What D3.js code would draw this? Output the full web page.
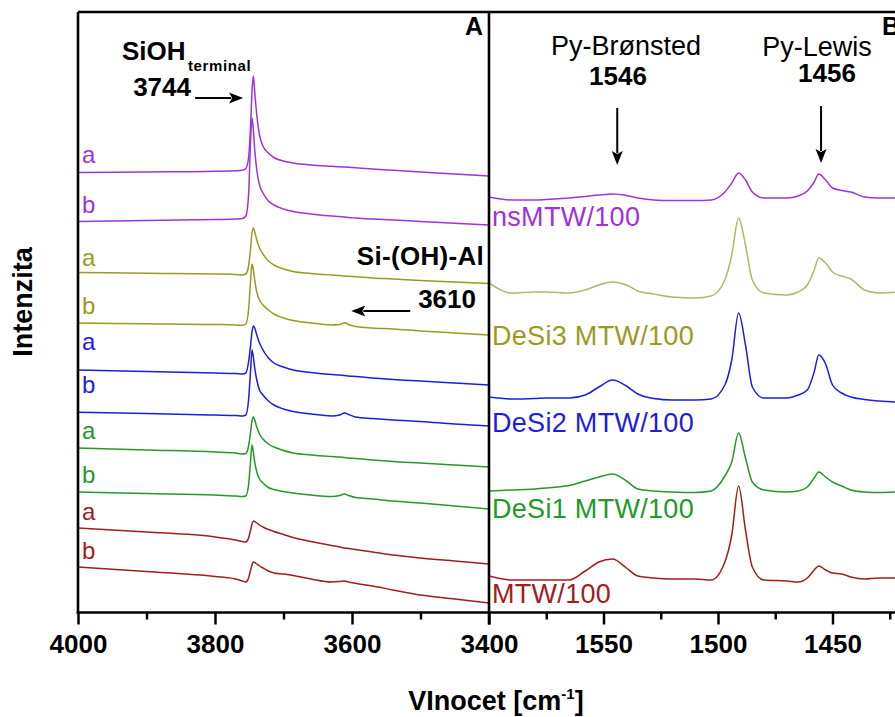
<!DOCTYPE html>
<html><head><meta charset="utf-8">
<script src="https://cdn.jsdelivr.net/npm/d3@7"></script>
<style>
html,body{margin:0;padding:0;background:#fff;}
svg{display:block;font-family:"Liberation Sans",Arial,sans-serif;}
</style></head>
<body>
<svg id="chart" width="895" height="717"></svg>
<script>
// ---------- DATA ----------
// Panel A: wavenumber grid (cm-1) and stacked intensity (a.u.)
const wnA = [4000,3900,3800,3770,3760,3755,3751,3748,3746,3744,3742,3739,3735,3730,3722,3714,3700,3686,3660,3630,3618,3611,3605,3595,3570,3540,3500,3450,3400];
const nsMTW_a  = [439.5,440,440.7,441.2,441.7,443.5,454,487,520,536,520,497,477,466,459,454.5,451,449,447,445.7,445.2,445,444.7,444.2,443,441.7,440,438,436];
const nsMTW_b  = [390.5,391.5,392.5,393,393.5,396,417,472,494,482,462,442,427,419,411,407,403,400.5,398,396,395.5,395,394.5,394,393,392,390.5,388.7,387];
const deSi3_a  = [339.5,338.7,338,337.5,337,338,346,364,379,384,380,372,364,358,351,347,343,340.5,338.5,337,336.5,336,335.7,335.2,334,333,331.5,330,328.5];
const deSi3_b  = [289,288.3,287.5,287,286.7,288,302,332,348,342,332,320,312,307,302,298,294,291.5,289,287,287.5,289.2,287.5,285.5,284,283,281,279,277];
const deSi2_a  = [242,240.5,239,238.5,238,239,250,267,280,286,284,277,269,262,254,249,245,242,239.5,237.5,237,236.5,236,235.5,234,232.5,231,229,227];
const deSi2_b  = [199.7,198.5,197,196.5,196,197,212,242,262,255,244,232,222,217,211,207,203,200.5,198,196,197,199,197.5,195,193.5,192,190.5,188,186];
const deSi1_a  = [164,162,160,159,158,158.5,166,180,191,195,192,185,178,173,168,165,161.5,159,157,155.5,155,154.5,154,153.5,152,150.5,149,147,145];
const deSi1_b  = [120,118.5,117,116,115.5,116,127,152,167,160,150,140,133,129,124.5,122.5,120.5,119,117,115.5,116.5,118,116.5,114.5,113,111,109,106,103];
const mtw_a    = [84,80,75,72,70.5,70,74,82,88,91,90.5,89,87,85,82.5,80.5,77.5,74.5,70.5,66.5,65,64,63.5,62.5,60,57,54,51,48];
const mtw_b    = [45,40.5,35.5,33,31,30,34,42,47,50,49.5,48,46,44,41,39,38,36.5,33,30,30.5,31,30,28.7,26,22,17,13,9];

// Panel B: pyridine adsorption spectra
const wnB = [1600,1590,1580,1575,1565,1558,1552,1546,1540,1535,1528,1520,1510,1503,1497,1494,1491,1488,1485,1480,1470,1465,1461,1458,1456,1453,1450,1446,1442,1436,1430,1420,1410,1400];
const nsMTW_py = [415,412,412,412.5,414,415.5,417,418,416.5,414,412,411.5,411.5,412,420,429,439,432,420,414,414,416,421,430,438,432,424,421.5,420,415,414,414,414,414];
const deSi3_py = [329,319,320,320,319,322,327,330,327,321,318,315,314,316,332,357,394,367,332,319,317,320,327,342,354,349,340,336,333,322,319,320,320,320];
const deSi2_py = [215,213,213.5,214,214,217,225,232,226,218,213.5,212,212,213,227,252,299,267,225,214,214,217,222,240,257,248,227,219,215,212.5,211,210,210,210];
const deSi1_py = [121,122,123,124,126.5,131,135,138,131,123,121,120,119.5,121,136,150,179,154,130,122,120,121,125,134,140,135,130,126,122,120,119.5,120,120,120];
const mtw_py   = [36,32,32,32,32,41,50,53,44,36,34,33,33,32,50,77,126,82,45,32,31,30,34,42,46,42,39,38,35,33,34,34,34,34];

const sampleNames = ["nsMTW/100","DeSi3 MTW/100","DeSi2 MTW/100","DeSi1 MTW/100","MTW/100"];
const ticksA = [4000,3800,3600,3400];
const minorA = [3900,3700,3500];
const ticksB = [1550,1500,1450];
const minorB = [1575,1525,1475,1425];

// ---------- STYLE ----------
const cPurple="#9f33d6", cOlive="#9a9a1e", cOliveLight="#b4b46a", cBlue="#1d1de0", cGreen="#23992a", cRed="#a11d1d";

const svg = d3.select("#chart");
const yTop=12, yBot=612.5, xL=78, xDiv=489, xR=895;
const xA = d3.scaleLinear().domain([4000,3400]).range([xL,xDiv]);
const xB = d3.scaleLinear().domain([1600,1400]).range([xDiv,947]);
const y  = d3.scaleLinear().domain([0,600]).range([612,12]);

const defs = svg.append("defs");
defs.append("clipPath").attr("id","clipA").append("rect").attr("x",xL).attr("y",yTop).attr("width",xDiv-xL).attr("height",yBot-yTop);
defs.append("clipPath").attr("id","clipB").append("rect").attr("x",xDiv).attr("y",yTop).attr("width",xR-xDiv+60).attr("height",yBot-yTop);

const lineA = d3.line().x((d,i)=>xA(wnA[i])).y(d=>y(d)).curve(d3.curveMonotoneX);
const lineB = d3.line().x((d,i)=>xB(wnB[i])).y(d=>y(d)).curve(d3.curveMonotoneX);

const seriesA = [
  {v:nsMTW_a,c:cPurple,l:"a"},{v:nsMTW_b,c:cPurple,l:"b"},
  {v:deSi3_a,c:cOlive,l:"a"},{v:deSi3_b,c:cOlive,l:"b"},
  {v:deSi2_a,c:cBlue,l:"a"},{v:deSi2_b,c:cBlue,l:"b"},
  {v:deSi1_a,c:cGreen,l:"a"},{v:deSi1_b,c:cGreen,l:"b"},
  {v:mtw_a,c:cRed,l:"a"},{v:mtw_b,c:cRed,l:"b"}
];
const labelYA = [162.5,213,265.5,313.5,350,393,438.5,482.5,520,559];

const gA = svg.append("g").attr("clip-path","url(#clipA)");
gA.selectAll("path").data(seriesA).join("path")
  .attr("d",d=>lineA(d.v)).attr("fill","none").attr("stroke",d=>d.c).attr("stroke-width",1.5);

svg.append("g").selectAll("text").data(seriesA).join("text")
  .attr("x",82).attr("y",(d,i)=>labelYA[i]).attr("fill",d=>d.c)
  .style("font-size","24px").text(d=>d.l);

const seriesB = [
  {v:nsMTW_py,c:cPurple,tc:cPurple},
  {v:deSi3_py,c:cOliveLight,tc:cOlive},
  {v:deSi2_py,c:cBlue,tc:cBlue},
  {v:deSi1_py,c:cGreen,tc:cGreen},
  {v:mtw_py,c:cRed,tc:cRed}
];
const labelYB = [226,345,432,518,603];
const gB = svg.append("g").attr("clip-path","url(#clipB)");
gB.selectAll("path").data(seriesB).join("path")
  .attr("d",d=>lineB(d.v)).attr("fill","none").attr("stroke",d=>d.c).attr("stroke-width",1.5);
svg.append("g").selectAll("text").data(seriesB).join("text")
  .attr("x",492).attr("y",(d,i)=>labelYB[i]).attr("fill",d=>d.tc)
  .style("font-size","27px").style("letter-spacing","0.3px").text((d,i)=>sampleNames[i]);

// ---------- AXES ----------
function styleAxis(g){
  g.select(".domain").remove();
  g.selectAll(".tick line").attr("stroke","#000").attr("stroke-width",2.5);
  g.selectAll(".tick text").attr("y",40).attr("dy",0)
    .style("font-size","26px").style("font-weight","bold").attr("fill","#000")
    .style("font-family","'Liberation Sans',Arial,sans-serif");
}
svg.append("g").attr("transform",`translate(0,${yBot})`)
  .call(d3.axisBottom(xA).tickValues(ticksA).tickSize(12).tickFormat(d3.format("d"))).call(styleAxis);
svg.append("g").attr("transform",`translate(0,${yBot})`)
  .call(d3.axisBottom(xA).tickValues(minorA).tickSize(7).tickFormat("")).call(styleAxis);
svg.append("g").attr("transform",`translate(0,${yBot})`)
  .call(d3.axisBottom(xB).tickValues(ticksB).tickSize(12).tickFormat(d3.format("d"))).call(styleAxis);
svg.append("g").attr("transform",`translate(0,${yBot})`)
  .call(d3.axisBottom(xB).tickValues(minorB).tickSize(7).tickFormat("")).call(styleAxis);

// frame
const frame = svg.append("g").attr("stroke","#000").attr("stroke-width",2.6).attr("fill","none");
frame.append("line").attr("x1",xL).attr("x2",xL).attr("y1",yTop).attr("y2",yBot+1.3);
frame.append("line").attr("x1",xL).attr("x2",xR).attr("y1",yTop).attr("y2",yTop);
frame.append("line").attr("x1",xL-1.3).attr("x2",xR).attr("y1",yBot).attr("y2",yBot);
frame.append("line").attr("x1",xDiv).attr("x2",xDiv).attr("y1",yTop).attr("y2",yBot+12);

// axis titles
const xt = svg.append("text").attr("x",496).attr("y",710).attr("text-anchor","middle")
  .style("font-size","27px").style("font-weight","bold");
xt.append("tspan").text("VInocet [cm");
xt.append("tspan").attr("dy",-11).style("font-size","15px").text("-1");
xt.append("tspan").attr("dy",11).text("]");
svg.append("text").attr("transform","translate(32,302) rotate(-90)").attr("text-anchor","middle")
  .style("font-size","27px").style("font-weight","bold").text("Intenzita");

// panel letters
svg.append("text").attr("x",483).attr("y",35).attr("text-anchor","end").style("font-size","25px").style("font-weight","bold").text("A");
svg.append("text").attr("x",882).attr("y",35).style("font-size","25px").style("font-weight","bold").text("B");

// ---------- ANNOTATIONS ----------
const ann = svg.append("g").style("font-weight","bold");
ann.append("text").attr("x",122).attr("y",60).style("font-size","26px").text("SiOH");
ann.append("text").attr("x",188).attr("y",71).style("font-size","15px").style("letter-spacing","0.6px").text("terminal");
ann.append("text").attr("x",191).attr("y",96).attr("text-anchor","end").style("font-size","26px").text("3744");
ann.append("text").attr("x",484).attr("y",265).attr("text-anchor","end").style("font-size","26px").style("letter-spacing","0.3px").text("Si-(OH)-Al");
ann.append("text").attr("x",476).attr("y",308).attr("text-anchor","end").style("font-size","26px").text("3610");

const annB = svg.append("g");
annB.append("text").attr("x",626).attr("y",55).attr("text-anchor","middle").style("font-size","27px").text("Py-Brønsted");
annB.append("text").attr("x",618).attr("y",85).attr("text-anchor","middle").style("font-size","26px").style("font-weight","bold").text("1546");
annB.append("text").attr("x",817).attr("y",56).attr("text-anchor","middle").style("font-size","27px").text("Py-Lewis");
annB.append("text").attr("x",827).attr("y",82).attr("text-anchor","middle").style("font-size","26px").style("font-weight","bold").text("1456");

// arrows (positions in data units)
function arrow(x1,y1,x2,y2){
  const g = svg.append("g");
  const dx=x2-x1, dy=y2-y1, L=Math.hypot(dx,dy), ux=dx/L, uy=dy/L;
  const hl=14, hw=5.5;
  const bx=x2-ux*hl, by=y2-uy*hl;
  g.append("line").attr("x1",x1).attr("y1",y1).attr("x2",bx+ux*2).attr("y2",by+uy*2)
    .attr("stroke","#000").attr("stroke-width",2);
  g.append("path").attr("d",`M${x2},${y2}L${bx-uy*hw},${by+ux*hw}L${bx+ux*3},${by+uy*3}L${bx+uy*hw},${by-ux*hw}Z`).attr("fill","#000");
}
arrow(xA(3829),y(514),xA(3759),y(514));
arrow(xA(3515),y(301),xA(3601),y(301));
arrow(xB(1544),y(504),xB(1544),y(447));
arrow(xB(1455),y(506),xB(1455),y(449));
</script>
</body></html>
